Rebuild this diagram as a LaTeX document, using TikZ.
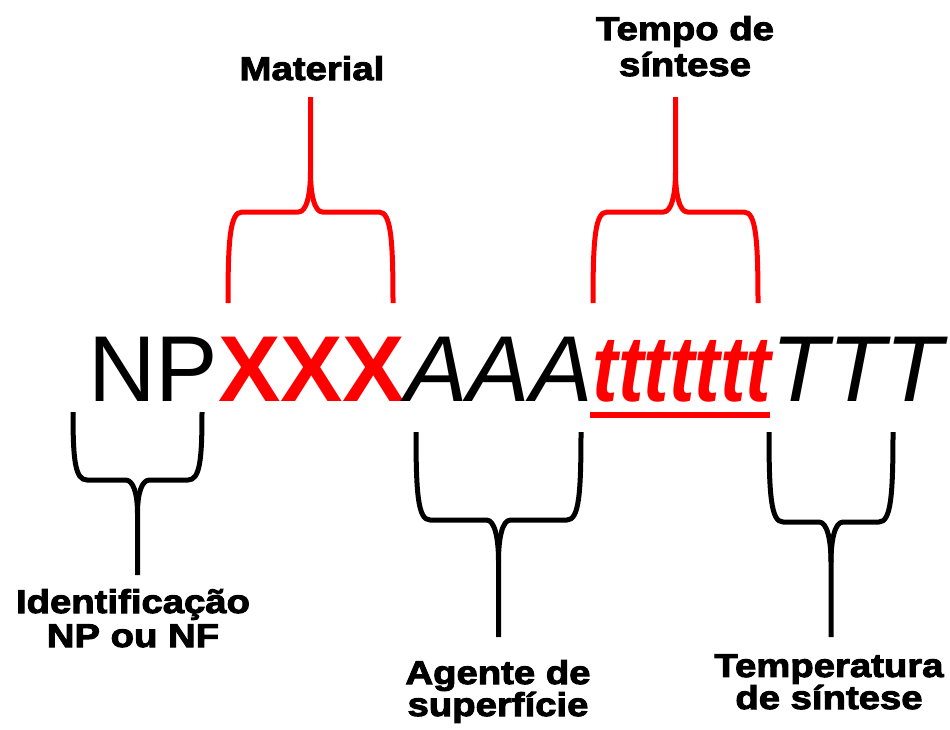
\documentclass[tikz,border=0pt]{standalone}
\usepackage{fontspec}
\setmainfont{Liberation Sans}
\newfontfamily\arial{Liberation Sans}
\newfontfamily\lblfont[FakeStretch=1.16,FakeBold=3]{Liberation Sans Bold}
\definecolor{pptred}{RGB}{255,0,0}
\tikzset{
  brace/.style={line width=5pt, line join=round, line cap=butt},
  bigtxt/.style={inner sep=0pt, outer sep=0pt, anchor=base west, font=\fontsize{93.6}{100}\selectfont\arial},
  lbl/.style={inner sep=0pt, anchor=base, align=center, font=\fontsize{33}{34}\selectfont\lblfont}
}
\newcommand\mybrace[6]{%
  \pgfmathsetmacro\bxm{(#2+#3)/2}%
  \pgfmathsetmacro\bya{#5+0.3*(#4-#5)}%
  \pgfmathsetmacro\byc{#5+0.15*(#6-#5)}%
  \pgfmathsetmacro\byd{#5+0.35*(#6-#5)}%
  \draw[brace,#1] (#2,#4) .. controls (#2,\bya) and ({#2+2},#5) .. ({#2+14},#5) -- ({\bxm-12},#5) .. controls ({\bxm-4},#5) and (\bxm,\byc) .. (\bxm,\byd) -- (\bxm,#6);
  \draw[brace,#1] (#3,#4) .. controls (#3,\bya) and ({#3-2},#5) .. ({#3-14},#5) -- ({\bxm+12},#5) .. controls ({\bxm+4},#5) and (\bxm,\byc) .. (\bxm,\byd);
}
\begin{document}
\begin{tikzpicture}[x=1pt,y=-1pt]
\useasboundingbox[fill=white] (0,0) rectangle (950,729);
% main code
\node[bigtxt] (np) at (88,401) {NP};
\node[bigtxt, text=pptred, font=\fontsize{93.6}{100}\selectfont\arial\bfseries] (xxx) at (np.base east) {XXX};
\node[bigtxt, font=\fontsize{93.6}{100}\selectfont\arial\itshape] (aaa) at (xxx.base east) {AAA};
\node[bigtxt, text=pptred, font=\fontsize{93.6}{100}\selectfont\arial\bfseries\itshape] (tt) at (aaa.base east) {\scalebox{0.82}[1]{ttttttt}};
\node[bigtxt, font=\fontsize{93.6}{100}\selectfont\arial\itshape] (ttt) at (tt.base east) {TTT};
\coordinate (ul1) at (590,415);
\coordinate (ul2) at (770,415);
\draw[pptred, line width=6pt] (ul1) -- (ul2);
% braces
\mybrace{pptred}{228}{393}{303}{212}{97}
\mybrace{pptred}{593}{758}{303}{212}{97}
\mybrace{black}{73}{202}{412}{480}{575}
\mybrace{black}{416}{581}{432}{520}{637}
\mybrace{black}{769}{893}{432}{522}{637}
% labels (multi-line: base = last line)
\node[lbl] (mat) at (312,80) {Material};
\node[lbl, font=\fontsize{33}{36}\selectfont\lblfont] (tempo) at (685,76) {Tempo de\\síntese};
\node[lbl] (ident) at (133,647) {Identificação\\NP ou NF};
\node[lbl, font=\fontsize{33}{32}\selectfont\lblfont] (agente) at (498,716) {Agente de\\superfície};
\node[lbl, font=\fontsize{33}{31}\selectfont\lblfont] (temp) at (829,709) {Temperatura\\de síntese};
\end{tikzpicture}
\end{document}
